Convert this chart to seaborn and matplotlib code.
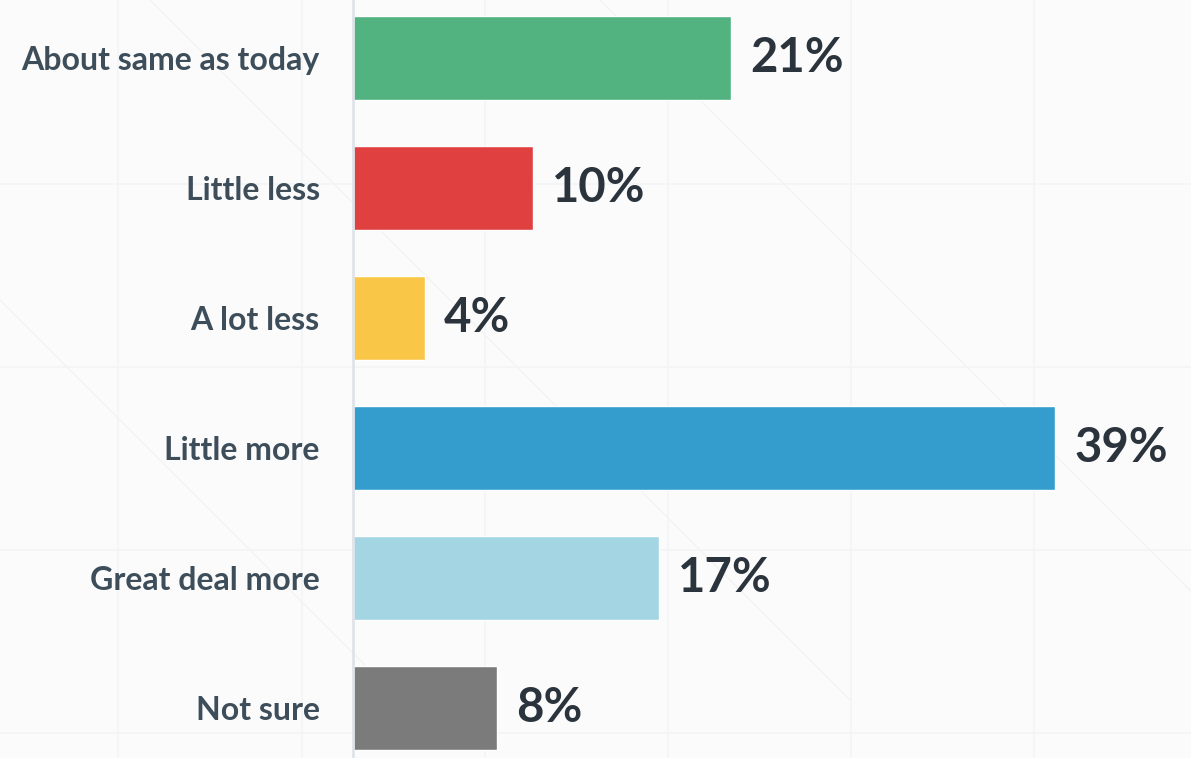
import matplotlib
matplotlib.use("Agg")
import matplotlib.pyplot as plt
from matplotlib.lines import Line2D
import seaborn as sns
import pandas as pd

categories = ["About same as today", "Little less", "A lot less",
              "Little more", "Great deal more", "Not sure"]
values = [21, 10, 4, 39, 17, 8]
colors = ["#52B381", "#E14041", "#F9C647", "#349DCD", "#A3D5E3", "#7B7B7B"]

df = pd.DataFrame({"category": categories, "value": values})

sns.set_theme(style="white")
plt.rcParams["font.family"] = ["Lato", "DejaVu Sans"]

W, H = 1191, 758
fig = plt.figure(figsize=(W / 100, H / 100), dpi=100)
fig.patch.set_facecolor("#FBFBFB")

# faint background tile pattern
for x in [118, 302, 485, 668, 851, 1034]:
    fig.add_artist(Line2D([x / W, x / W], [0, 1], color="#F3F4F5", lw=1.2, zorder=0))
for y in [184, 367, 550, 733]:
    fig.add_artist(Line2D([0, 1], [1 - y / H, 1 - y / H], color="#F3F4F5", lw=1.2, zorder=0))
for x0 in [-300, 150, 600]:
    fig.add_artist(Line2D([x0 / W, (x0 + 700) / W], [1, 1 - 700 / H],
                          color="#F3F3F4", lw=1.0, zorder=0))

ax = fig.add_axes([353 / W, 0, 1 - 353 / W, 1])
ax.set_facecolor("none")

sns.barplot(data=df, x="value", y="category", hue="category", palette=colors,
            orient="h", width=0.646, legend=False, saturation=1, ax=ax)

ax.set_xlim(0, (W - 353) / 18)
ax.set_ylim(5.385, -0.446)

for i, v in enumerate(values):
    ax.text(v + 19 / 18, i, f"{v}%", va="center", ha="left",
            fontsize=34, fontweight="bold", color="#2B343C")

ax.set_xlabel("")
ax.set_ylabel("")
ax.set_xticks([])
ax.tick_params(axis="y", length=0, pad=24)
for lbl in ax.get_yticklabels():
    lbl.set_fontsize(23)
    lbl.set_fontweight("bold")
    lbl.set_color("#3D4E5A")

for s in ["top", "right", "bottom"]:
    ax.spines[s].set_visible(False)
ax.spines["left"].set_color("#DFE4EA")
ax.spines["left"].set_linewidth(2)

fig.savefig("out.png", dpi=100, facecolor=fig.get_facecolor())
